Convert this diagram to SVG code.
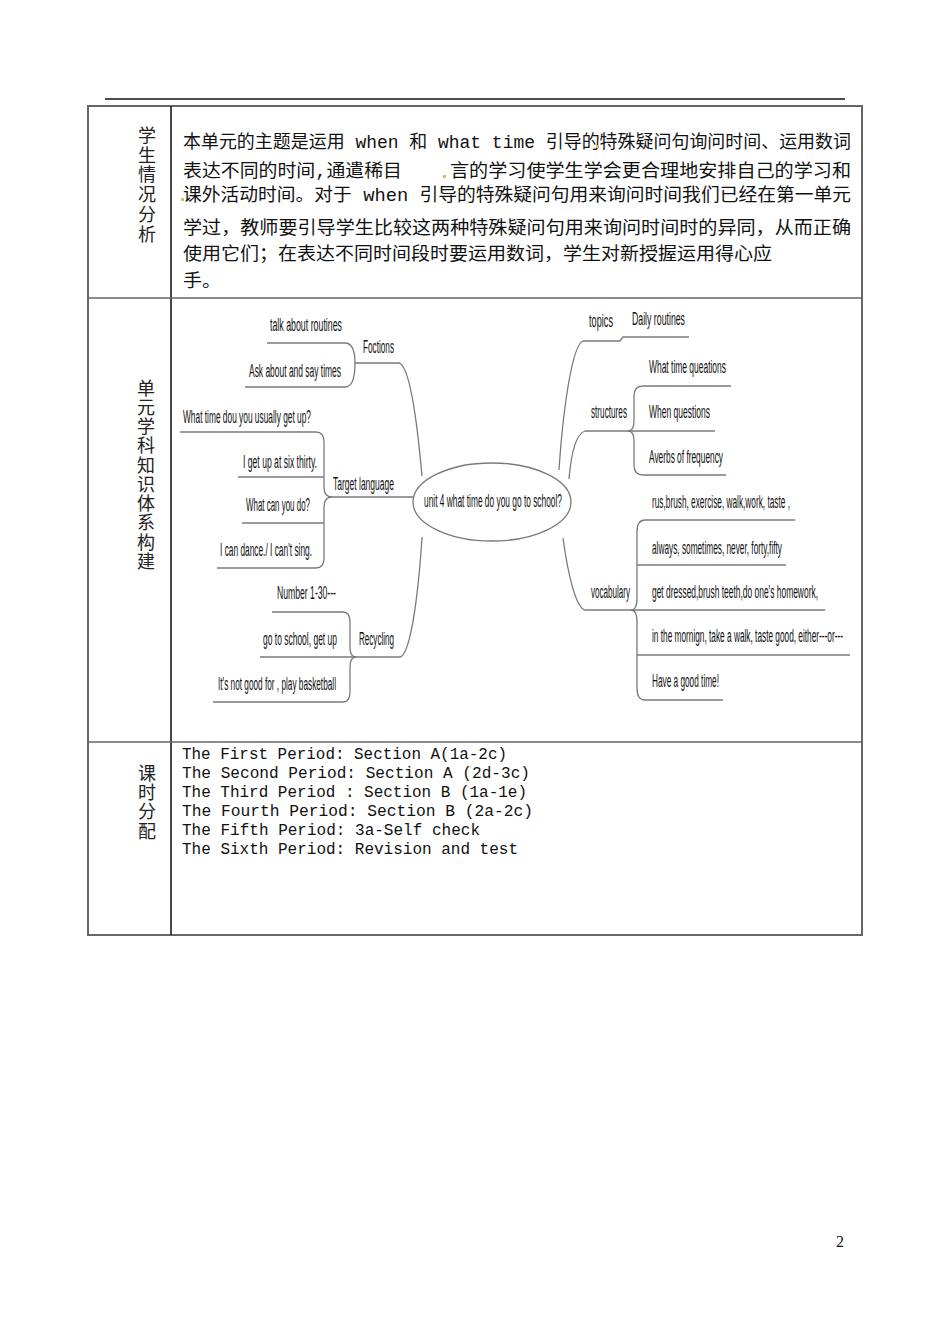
<svg xmlns="http://www.w3.org/2000/svg" width="950" height="1342" viewBox="0 0 950 1342">
<style>
.cn{font-family:"Liberation Mono","Noto Sans CJK SC",monospace;font-size:18px;fill:#111}
.lab{font-family:"Noto Sans CJK SC",sans-serif;font-size:18px;fill:#222;writing-mode:vertical-rl;text-anchor:start}
.mono{font-family:"Liberation Mono",monospace;font-size:16px;fill:#111}
.mm{font-family:"Liberation Sans",sans-serif;font-size:19px;fill:#111}
.ln{fill:none;stroke:#7a7a7a;stroke-width:1.3}
.bd{fill:none;stroke:#666;stroke-width:2}
.dot{fill:#c9c46a}
</style>
<rect width="950" height="1342" fill="#fff"/>
<g id="table">
<line x1="105" y1="99" x2="845" y2="99" stroke="#111" stroke-width="1.6"/>
<rect x="88" y="106" width="774" height="829" class="bd"/>
<line x1="171" y1="106" x2="171" y2="935" stroke="#333" stroke-width="1.8"/>
<line x1="88" y1="298" x2="862" y2="298" stroke="#666" stroke-width="1.6"/>
<line x1="88" y1="742" x2="862" y2="742" stroke="#666" stroke-width="1.6"/>
</g>
<g id="label1"><text class="lab" x="147" y="126" textLength="117" lengthAdjust="spacing">学生情况分析</text></g>
<g id="label2"><text class="lab" x="146" y="379" textLength="191" lengthAdjust="spacing">单元学科知识体系构建</text></g>
<g id="label3"><text class="lab" x="147" y="764" textLength="76" lengthAdjust="spacing">课时分配</text></g>
<g id="analysis">
<text class="cn" x="183" y="148" textLength="668" lengthAdjust="spacingAndGlyphs">本单元的主题是运用 when 和 what  time 引导的特殊疑问句询问时间、运用数词</text>
<text class="cn" x="183" y="177" textLength="219" lengthAdjust="spacingAndGlyphs">表达不同的时间,通遣稀目</text>
<text class="cn" x="450" y="177" textLength="401" lengthAdjust="spacingAndGlyphs">言的学习使学生学会更合理地安排自己的学习和</text>
<text class="cn" x="183" y="201" textLength="668" lengthAdjust="spacingAndGlyphs">课外活动时间。对于 when 引导的特殊疑问句用来询问时间我们已经在第一单元</text>
<text class="cn" x="183" y="234" textLength="668" lengthAdjust="spacingAndGlyphs">学过，教师要引导学生比较这两种特殊疑问句用来询问时间时的异同，从而正确</text>
<text class="cn" x="183" y="260" textLength="589" lengthAdjust="spacingAndGlyphs">使用它们；在表达不同时间段时要运用数词，学生对新授握运用得心应</text>
<text class="cn" x="183" y="287" textLength="38" lengthAdjust="spacingAndGlyphs">手。</text>
<rect class="dot" x="596" y="145" width="3" height="3"/>
<rect class="dot" x="443" y="175" width="3" height="3"/>
<rect class="dot" x="181" y="198" width="3" height="3"/>
</g>
<g id="connectors">
<ellipse cx="492" cy="502" rx="79" ry="39" class="ln" stroke-width="1.6"/>
<path class="ln" d="M267,343 H345 C352,343 355,350 355,363 C355,377 352,387 345,387 H245"/>
<path class="ln" d="M355,363 H399 C410,366 417,420 422,476"/>
<path class="ln" d="M180,432 H316 Q324,432 324,442 V487 Q324,497 332,497 H413"/>
<path class="ln" d="M217,568 H316 Q324,568 324,558 V507 Q324,497 332,497"/>
<path class="ln" d="M238,477 H324"/>
<path class="ln" d="M242,523 H324"/>
<path class="ln" d="M272,612 H343 Q350,612 350,622 V647 Q350,657 356,657"/>
<path class="ln" d="M213,702 H343 Q350,702 350,692 V667 Q350,657 356,657"/>
<path class="ln" d="M260,657 H400 C410,655 418,600 422,537"/>
<path class="ln" d="M583,341 H620 L623,337 H689"/>
<path class="ln" d="M583,341 C572,345 563,410 559,470"/>
<path class="ln" d="M585,431 H715"/>
<path class="ln" d="M585,431 C576,434 571,455 569,479"/>
<path class="ln" d="M731,386 H643 Q634,386 634,396 V421 Q634,431 628,431"/>
<path class="ln" d="M726,475 H643 Q634,475 634,465 V441 Q634,431 628,431"/>
<path class="ln" d="M795,520 H645 Q637,520 637,532 V598 Q637,610 631,610"/>
<path class="ln" d="M723,700 H645 Q637,700 637,688 V622 Q637,610 631,610"/>
<path class="ln" d="M786,565 H637"/>
<path class="ln" d="M850,655 H637"/>
<path class="ln" d="M585,610 H825"/>
<path class="ln" d="M585,610 C576,608 568,575 563,538"/>
</g>
<g id="center" transform="scale(0.5 1)"><text class="mm" x="848" y="507" textLength="276" lengthAdjust="spacingAndGlyphs">unit 4 what time do you go to school?</text></g>
<g id="foctions" transform="scale(0.5 1)">
<text class="mm" x="726" y="353" textLength="62" lengthAdjust="spacingAndGlyphs">Foctions</text>
<text class="mm" x="540" y="331" textLength="144" lengthAdjust="spacingAndGlyphs">talk about  routines</text>
<text class="mm" x="498" y="377" textLength="184" lengthAdjust="spacingAndGlyphs">Ask about and say times</text>
</g>
<g id="target" transform="scale(0.5 1)">
<text class="mm" x="666" y="490" textLength="122" lengthAdjust="spacingAndGlyphs">Target language</text>
<text class="mm" x="366" y="423" textLength="256" lengthAdjust="spacingAndGlyphs">What time dou you usually get up?</text>
<text class="mm" x="486" y="468" textLength="148" lengthAdjust="spacingAndGlyphs">I get up at six thirty.</text>
<text class="mm" x="492" y="511" textLength="128" lengthAdjust="spacingAndGlyphs">What can you do?</text>
<text class="mm" x="440" y="556" textLength="184" lengthAdjust="spacingAndGlyphs">I can dance./ I can't sing.</text>
</g>
<g id="recycling" transform="scale(0.5 1)">
<text class="mm" x="718" y="645" textLength="70" lengthAdjust="spacingAndGlyphs">Recycling</text>
<text class="mm" x="554" y="599" textLength="118" lengthAdjust="spacingAndGlyphs">Number 1-30---</text>
<text class="mm" x="526" y="645" textLength="148" lengthAdjust="spacingAndGlyphs">go to school, get up</text>
<text class="mm" x="436" y="690" textLength="236" lengthAdjust="spacingAndGlyphs">It's not good for , play basketball</text>
</g>
<g id="topics" transform="scale(0.5 1)">
<text class="mm" x="1178" y="327" textLength="48" lengthAdjust="spacingAndGlyphs">topics</text>
<text class="mm" x="1264" y="325" textLength="106" lengthAdjust="spacingAndGlyphs">Daily routines</text>
</g>
<g id="structures" transform="scale(0.5 1)">
<text class="mm" x="1182" y="418" textLength="72" lengthAdjust="spacingAndGlyphs">structures</text>
<text class="mm" x="1298" y="373" textLength="154" lengthAdjust="spacingAndGlyphs">What time queations</text>
<text class="mm" x="1298" y="418" textLength="122" lengthAdjust="spacingAndGlyphs">When questions</text>
<text class="mm" x="1298" y="463" textLength="148" lengthAdjust="spacingAndGlyphs">Averbs of frequency</text>
</g>
<g id="vocabulary" transform="scale(0.5 1)">
<text class="mm" x="1182" y="598" textLength="78" lengthAdjust="spacingAndGlyphs">vocabulary</text>
<text class="mm" x="1304" y="508" textLength="276" lengthAdjust="spacingAndGlyphs">rus,brush, exercise, walk,work, taste ,</text>
<text class="mm" x="1304" y="554" textLength="260" lengthAdjust="spacingAndGlyphs">always, sometimes, never, forty,fifty</text>
<text class="mm" x="1304" y="598" textLength="332" lengthAdjust="spacingAndGlyphs">get dressed,brush teeth,do one's homework,</text>
<text class="mm" x="1304" y="642" textLength="382" lengthAdjust="spacingAndGlyphs">in the mornign, take a walk, taste good, either---or---</text>
<text class="mm" x="1304" y="687" textLength="134" lengthAdjust="spacingAndGlyphs">Have a good time!</text>
</g>
<g id="periods">
<text class="mono" x="182" y="759" textLength="325" lengthAdjust="spacingAndGlyphs">The First Period: Section A(1a-2c)</text>
<text class="mono" x="182" y="778" textLength="348" lengthAdjust="spacingAndGlyphs">The Second Period: Section A (2d-3c)</text>
<text class="mono" x="182" y="797" textLength="345" lengthAdjust="spacingAndGlyphs">The Third Period : Section B (1a-1e)</text>
<text class="mono" x="182" y="816" textLength="351" lengthAdjust="spacingAndGlyphs">The Fourth Period: Section B (2a-2c)</text>
<text class="mono" x="182" y="835" textLength="298" lengthAdjust="spacingAndGlyphs">The Fifth Period: 3a-Self check</text>
<text class="mono" x="182" y="854" textLength="336" lengthAdjust="spacingAndGlyphs">The Sixth Period: Revision and test</text>
</g>
<text x="840" y="1247" font-family="Liberation Serif,serif" font-size="16" fill="#111" text-anchor="middle">2</text>
</svg>
